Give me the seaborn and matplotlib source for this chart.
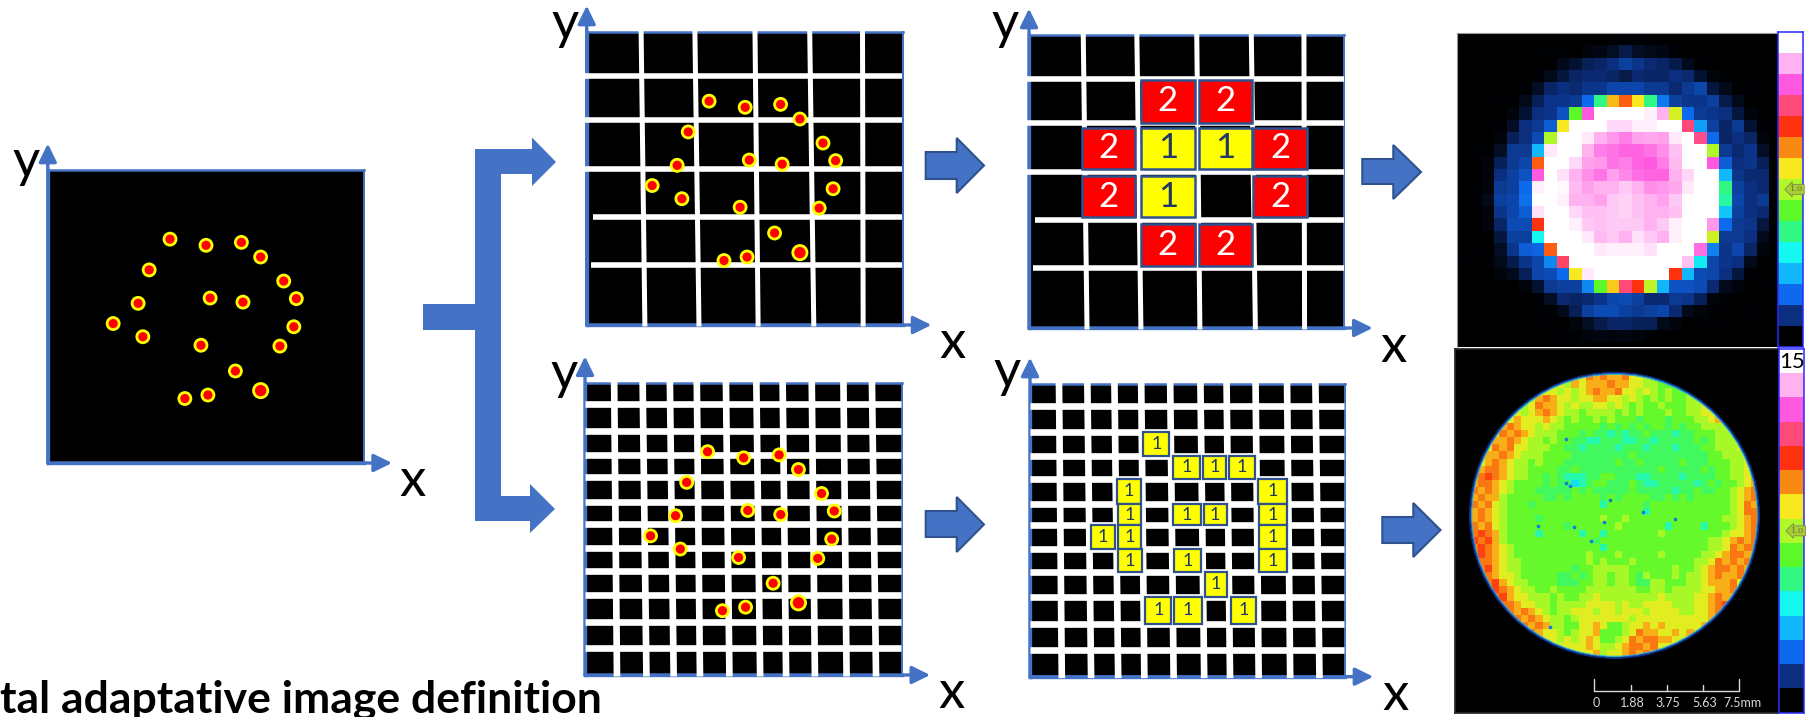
import numpy as np
import pandas as pd
import matplotlib
matplotlib.use('Agg')
import matplotlib.pyplot as plt
import seaborn as sns
from matplotlib.colors import LinearSegmentedColormap
from matplotlib.patches import Circle, Polygon, Rectangle

# ─────────────────────────────────────────
# DATA (positions in % of the panel, y up)
# ─────────────────────────────────────────
event_x = [38.7, 50.1, 61.3, 67.4, 32.1, 74.7, 78.7, 28.6, 51.4, 61.8,
           20.7, 30.1, 77.9, 73.5, 48.5, 59.4, 67.4, 50.7, 43.4]
event_y = [76.4, 74.3, 75.3, 70.3, 65.9, 62.1, 56.1, 54.5, 56.3, 54.9,
           47.6, 43.1, 46.5, 39.9, 40.2, 31.4, 24.7, 23.2, 22.0]
event_weight = [1, 1, 1, 1, 1, 1, 1, 1, 1, 1, 1, 1, 1, 1, 1, 1, 2, 1, 1]

coarse_vx_top = [17.2, 34.2, 53.2, 70.5, 87.2]
coarse_vx_bot = [18.4, 35.5, 54.2, 71.8, 87.4]
coarse_hy = [84.9, 69.9, 53.1, 36.9, 20.5]
coarse_hstart = [-0.7, -0.7, -0.7, 1.9, 1.3]

fine_vx_top = [9.2, 18.2, 26.8, 35.3, 44.5, 54.1, 62.4, 71.6, 81.6, 90.6]
fine_vx_bot = [10.1, 19.4, 28.0, 36.3, 45.6, 55.3, 63.5, 72.6, 82.6, 91.9]
fine_hy = [92.6, 83.5, 75.4, 67.7, 59.1, 51.7, 43.6, 35.7, 27.4, 18.1, 9.1]
fine_hstart = [0] * 11

coarse_bin_x = [(16.9, 33.7), (35.6, 52.5), (53.8, 70.6), (71.2, 88.1)]
coarse_bin_y = [(84.7, 70.0), (68.4, 54.2), (51.9, 37.8), (35.6, 21.3)]
coarse_counts = [[0, 2, 2, 0],
                 [2, 1, 1, 2],
                 [2, 1, 0, 2],
                 [0, 2, 2, 0]]

# row, column of every occupied cell of the fine grid
fine_rows = [2, 3, 3, 3, 4, 4, 5, 5, 5, 5, 6, 6, 6, 7, 7, 7, 8, 9, 9, 9]
fine_cols = [4, 5, 6, 7, 3, 8, 3, 5, 6, 8, 2, 3, 8, 3, 5, 8, 6, 4, 5, 7]

level_colors = ['#000000', '#0b2f80', '#0e6aec', '#10b8fa', '#14f8f0',
                '#30f880', '#5cf82a', '#b0f828', '#f8e81e', '#f88a12',
                '#ff3210', '#ff4a78', '#ff5adf', '#ffb0f0', '#ffffff']
colorbar_levels = list(range(14, -1, -1))

low_res_image = [
    [0, 0, 0, 0, 0, 0, 0, 0, 0, 0, 0, 0, .05, .05, .05, .05, 0, 0, 0, 0, 0, 0, 0, 0, 0, 0],
    [0, 0, 0, 0, 0, 0, .05, .05, .05, 0, .1, .15, .3, .6, .3, .2, .15, .05, 0, 0, 0, 0, 0, 0, 0, 0],
    [0, 0, 0, 0, 0, 0, 0, 0, .2, .4, .7, .8, 1, 1.3, 1.1, .9, .8, .6, .2, .05, 0, 0, 0, 0, 0, 0],
    [0, 0, 0, 0, 0, 0, .05, .2, .5, .8, .9, .9, .8, .6, .9, .8, .8, 1, .9, .4, .1, .05, 0, 0, 0, 0],
    [0, 0, 0, 0, 0, .05, .3, .8, 1, .9, 1.1, 1.1, 1.4, 1.4, 1.4, 1.2, 1.2, .9, 1.2, 1.4, .5, .2, .05, .05, 0, 0],
    [0, 0, 0, .05, 0, .2, .7, 1.1, 1.1, 1.2, 2, 5, 8.5, 9.5, 8, 5, 2.2, 1.3, 1.1, 1.1, 1.3, .6, .2, 0, 0, 0],
    [0, 0, 0, 0, .1, .4, 1, 1.1, 1.6, 6, 12, 14, 14, 14, 14, 13.8, 13, 7.5, 2, 1.2, 1.1, 1, .5, .1, 0, 0],
    [0, 0, 0, .05, .3, 1, 1.2, 1.8, 8, 14, 14, 14, 13.5, 13.5, 13.8, 13.8, 14, 14, 11, 2.7, 1.3, .8, 1.2, .4, .05, 0],
    [0, 0, 0, .1, .7, 1, 1.5, 7, 14, 14, 13.7, 13, 12.7, 12.4, 12.8, 12.9, 12.8, 13.7, 14, 11.2, 2, .8, 1, .8, .1, 0],
    [0, .05, .05, .3, 1.2, 1.2, 3, 13.7, 14, 14, 13, 12.4, 12.3, 12.1, 12.1, 12.3, 12.6, 13.2, 14, 14, 7, 1.2, .9, 1.1, .3, 0],
    [0, 0, .1, .7, 1.2, 1.4, 9.5, 14, 14, 13.5, 12.8, 12.7, 12.3, 12.4, 12.1, 12, 12.4, 13.1, 14, 14, 12, 1.8, 1, 1.1, .7, 0],
    [0, 0, .1, 1, 1.3, 1.6, 12, 14, 13.6, 13, 12.6, 12.3, 12.8, 12.5, 12.2, 12.1, 12.1, 13, 13.5, 14, 14, 3, 1.1, .9, .9, 0],
    [0, .05, .1, 1.2, 1.3, 2, 13.8, 14, 13.9, 13.1, 12.8, 13, 13, 13.3, 13, 12.6, 12.7, 12.9, 13.7, 14, 14, 5, 1.3, 1, .9, 0],
    [0, .05, .2, 1.3, 1.4, 2.1, 14, 14, 13.8, 13, 13, 12.8, 13.3, 13.4, 13.2, 13, 12.8, 13.3, 14, 14, 14, 4.7, 1.4, 1, 1.2, 0],
    [0, 0, .1, 1.1, 1.4, 1.8, 13.6, 14, 14, 13.5, 13.2, 13.2, 13.3, 13.4, 13.2, 13, 13, 13.2, 14, 14, 14, 3.2, 1.3, 1, .9, 0],
    [0, 0, .1, .8, 1.5, 1.5, 10, 14, 14, 13.8, 13.3, 13.2, 13.3, 13.3, 13.3, 13, 13.3, 13.8, 14, 14, 12.7, 2, 1.2, 1.1, .5, 0],
    [0, 0, 0, .5, 1.3, 1.3, 4, 14, 14, 14, 13.7, 13.1, 13.3, 13, 13.6, 13.3, 13, 13.8, 14, 14, 7.4, 1.2, 1.2, 1, .2, 0],
    [0, .05, 0, .3, 1.1, 1.8, 1.9, 9.5, 14, 14, 14, 13.7, 13.8, 13.8, 13.8, 13.6, 14, 14, 14, 12.2, 2.3, 1.1, 1.4, .8, .1, 0],
    [.05, 0, .05, .2, .6, 1.1, 1.4, 2.4, 10.8, 14, 14, 14, 14, 14, 14, 14, 14, 14, 13.2, 3.8, 1.4, 1.1, 1, .2, 0, 0],
    [0, 0, 0, .1, .2, .7, 1.4, 1.5, 2, 8, 13.7, 14, 14, 14, 14, 14, 14, 10, 3, 1.5, 1.4, 1, .5, .05, 0, 0],
    [0, 0, 0, 0, 0, .1, .4, 1.2, 1.3, 1.3, 2.4, 6, 8.3, 11, 10, 7.2, 3, 1.6, 1.6, 1.5, .9, .2, .1, 0, .05, 0],
    [0, 0, 0, 0, 0, 0, .05, .3, .9, .8, .9, 1.1, 1.4, 1.5, 1.3, .9, .9, 1.2, 1.1, .7, .1, .05, 0, 0, 0, 0],
    [0, 0, 0, 0, 0, 0, .05, .05, .2, .7, 1.3, 1.5, 1.5, 1.3, 1.2, 1.3, 1.4, .9, .2, .1, .05, 0, 0, .05, 0, 0],
    [0, 0, 0, 0, 0, 0, 0, .05, 0, .1, .3, .6, .8, .8, .7, .7, .2, .1, 0, .05, 0, .05, 0, 0, 0, 0],
    [0, 0, 0, 0, 0, 0, 0, 0, .05, .05, .1, .15, .1, .15, .1, .05, 0, 0, 0, 0, 0, 0, 0, 0, 0, 0],
    [0, 0, 0, 0, 0, 0, 0, 0, 0, .05, .05, 0, 0, .02, 0, 0, 0, 0, 0, 0, 0, 0, 0, 0, 0, 0],
]

# one character per cell, looked up in high_res_values
high_res_rows = [
    "7777777777777788a9a99a887777666677777777",
    "7777777777778798999a99887766676777777777",
    "77777777778878789a99a8878767667778888777",
    "7777777779a9887889988787676766778899a877",
    "777777778a99878778878767667666778a99a877",
    "7777778789a9877677776767666766778899a987",
    "7777789888987676676766656665666778987777",
    "77779a9887877666665656565665656677776778",
    "7778a9a98777666565545455655545566677789a",
    "77799a9877676655445554455455555656777899",
    "778a9a8877766554555545554555455566777888",
    "7799a98777666655555555655555555556677787",
    "789a987767666555555565565555565556667787",
    "89aa987766665565555555555565555565667788",
    "9aba987766565444556655544555545555667789",
    "9aa9876666565534566555654455555456566789",
    "a9a987666555556565555565555545565566789a",
    "9a9976666655656666565666655656566666789a",
    "a9a87666566666666646666656666666666678a9",
    "9a987666666666666666666646666666666678aa",
    "9a9876666566666666766766666666666667789a",
    "a9a876666666656666667666666466664666789a",
    "aba976666466666466466666667666666667889a",
    "bab9766666666666656666666666666667789a9a",
    "aba987666666666666466666666666666778a9aa",
    "aba987666666666676667666667666667789aa99",
    "aaa9877666666666767666766666666778a9a9a8",
    "9ab9877666666656677777666666766789aa9a98",
    "9aa9887666665565677677657666767789a99a97",
    "89ab98776666555667767765577666778999a897",
    "78aba9877667666677777776677677778899a887",
    "78aab98877767667787777777787777889a99a87",
    "78abaa9887767777888878778888777889aba987",
    "777aba9a98767788878878887888877889ab9787",
    "7778aba9a9877678888888788888888889a98777",
    "77789aaa9a977668898667889898888898987777",
    "777789a9a98876788966678a9988989887777777",
    "7777778899887878986678a9aa99888877777777",
    "7777777788888888987789aa9a88887777777777",
    "7777777777778888897889a9a988877777777777",
]
high_res_values = {'3': 3.6, '4': 4.6, '5': 5.4, '6': 6.1, '7': 6.9, '8': 7.7,
                   '9': 8.6, 'a': 9.2, 'b': 9.8}
dark_spot_x = [19.4, 24.0, 28.4, 18.6, 9.4, 14.4, 16.7, 11.0, 13.3, 13.8, 13.3]
dark_spot_y = [17.8, 19.5, 20.5, 21.0, 21.5, 21.7, 23.6, 35.7, 15.5, 15.9, 9.3]

scale_ticks = [0, 1.88, 3.75, 5.63, 7.5]
scale_labels = ['0', '1.88', '3.75', '5.63', '7.5mm']

# ─────────────────────────────────────────
# HELPERS
# ─────────────────────────────────────────
W, H = 1810, 717
BLUE = '#4472c4'
DARK_BLUE = '#2f528f'

sns.set_theme(style='white')
plt.rcParams['font.family'] = ['Lato', 'DejaVu Sans']

fig = plt.figure(figsize=(W / 100, H / 100), dpi=100)
level_cmap = LinearSegmentedColormap.from_list('levels', level_colors, N=512)


def add_box(x0, y0, x1, y1):
    return fig.add_axes([x0 / W, 1 - y1 / H, (x1 - x0) / W, (y1 - y0) / H])


def draw_panel(box):
    ax = add_box(*box)
    ax.set_facecolor('black')
    ax.set_xlim(0, 100)
    ax.set_ylim(0, 100)
    ax.set_xticks([])
    ax.set_yticks([])
    for name, lw in [('top', 1.8), ('bottom', 2.4), ('left', 2.4), ('right', 1.4)]:
        ax.spines[name].set_visible(True)
        ax.spines[name].set_color(BLUE)
        ax.spines[name].set_linewidth(lw)
    style = dict(arrowstyle='-|>,head_width=0.27,head_length=0.55', color=BLUE,
                 lw=2.4, mutation_scale=20, shrinkA=0, shrinkB=0)
    ax.annotate('', xy=(0, 109), xytext=(0, 0), arrowprops=style, annotation_clip=False, zorder=2)
    ax.annotate('', xy=(109, 0), xytext=(0, 0), arrowprops=style, annotation_clip=False, zorder=2)
    return ax


def draw_grid(ax, vx_top, vx_bot, hy, hstart, vw, hw):
    for top, bot in zip(vx_top, vx_bot):
        ax.plot([top, bot], [100.5, -0.5], color='white', lw=vw, solid_capstyle='butt',
                clip_on=False, zorder=3)
    for y, x0 in zip(hy, hstart):
        ax.plot([x0, 99.8], [y, y], color='white', lw=hw, solid_capstyle='butt',
                clip_on=False, zorder=3)


def draw_events(ax):
    df = pd.DataFrame({'x': event_x, 'y': event_y, 'weight': event_weight})
    sns.scatterplot(data=df, x='x', y='y', size='weight', sizes=(75, 105), color='#ff0000',
                    edgecolor='#ffff00', linewidth=2, legend=False, ax=ax, zorder=5)
    ax.set_xlabel('')
    ax.set_ylabel('')


def draw_cell(ax, x0, x1, y0, y1, count, fontsize, lw):
    face = {1: '#ffff00', 2: '#ff0000'}[count]
    text_color = {1: '#1f3864', 2: 'white'}[count]
    ax.add_patch(Rectangle((x0, y1), x1 - x0, y0 - y1, facecolor=face, edgecolor=DARK_BLUE,
                           lw=lw, zorder=4))
    ax.text((x0 + x1) / 2, (y0 + y1) / 2, str(count), color=text_color, fontsize=fontsize,
            ha='center', va='center', zorder=6)


# ─────────────────────────────────────────
# EVENT AND GRID PANELS
# ─────────────────────────────────────────
ax_a = draw_panel((47.8, 170, 363.6, 463))
draw_events(ax_a)

ax_b = draw_panel((586.7, 32, 903, 325))
draw_grid(ax_b, coarse_vx_top, coarse_vx_bot, coarse_hy, coarse_hstart, 3.6, 4.0)
draw_events(ax_b)

ax_c = draw_panel((1029, 35, 1344.3, 328))
draw_grid(ax_c, coarse_vx_top, coarse_vx_bot, coarse_hy, coarse_hstart, 3.6, 4.0)
for r, (y0, y1) in enumerate(coarse_bin_y):
    for c, (x0, x1) in enumerate(coarse_bin_x):
        if coarse_counts[r][c]:
            draw_cell(ax_c, x0, x1, y0, y1, coarse_counts[r][c], 25, 1.8)

ax_d = draw_panel((585, 382.7, 901.7, 675))
draw_grid(ax_d, fine_vx_top, fine_vx_bot, fine_hy, fine_hstart, 4.8, 4.8)
draw_events(ax_d)

ax_e = draw_panel((1030, 384, 1345, 676.7))
draw_grid(ax_e, fine_vx_top, fine_vx_bot, fine_hy, fine_hstart, 4.8, 4.8)
for r, c in zip(fine_rows, fine_cols):
    t = 1 - (fine_hy[r - 1] + fine_hy[r]) / 200
    left = fine_vx_top[c - 1] + t * (fine_vx_bot[c - 1] - fine_vx_top[c - 1])
    right = fine_vx_top[c] + t * (fine_vx_bot[c] - fine_vx_top[c])
    draw_cell(ax_e, left + 0.5, right - 0.5, fine_hy[r - 1], fine_hy[r], 1, 13, 1.6)

# ─────────────────────────────────────────
# RESULT IMAGES
# ─────────────────────────────────────────
ax_low = add_box(1456.7, 33, 1778.3, 347)
sns.heatmap(np.array(low_res_image), cmap=level_cmap, vmin=0, vmax=14, cbar=False,
            xticklabels=False, yticklabels=False, ax=ax_low)
ax_low.set_xlim(0, 25.73)
ax_low.set_ylim(25.4, 0)
for name in ['left', 'top']:
    ax_low.spines[name].set_visible(True)
    ax_low.spines[name].set_color('#999999')
    ax_low.spines[name].set_linewidth(0.8)

ax_high_bg = add_box(1455, 349, 1779.3, 712.7)
ax_high_bg.set_facecolor('black')
ax_high_bg.set_xticks([])
ax_high_bg.set_yticks([])

ax_high = add_box(1470.7, 373.3, 1758.3, 657.3)
high_res_image = np.array([[high_res_values[ch] for ch in row] for row in high_res_rows])
sns.heatmap(high_res_image, cmap=level_cmap, vmin=0, vmax=14, cbar=False,
            xticklabels=False, yticklabels=False, ax=ax_high)
ax_high.collections[0].set_clip_path(Circle((20, 20), 20, transform=ax_high.transData))
ax_high.patch.set_alpha(0)
sns.scatterplot(x=dark_spot_x, y=dark_spot_y, color='#0a80d8', s=7, linewidth=0, ax=ax_high, zorder=3)
for radius, color, lw in [(19.85, '#10b8fa', 0.6), (20, '#0e5ad0', 0.8), (20.15, '#0b2f80', 0.8)]:
    ax_high.add_patch(Circle((20, 20), radius, fill=False, edgecolor=color, lw=lw, clip_on=False, zorder=4))
ax_high.set_xlim(0, 40)
ax_high.set_ylim(40, 0)

for box, label in [((1778.3, 32, 1802.7, 346.7), None), ((1779.3, 349, 1804, 712.7), '15')]:
    ax_bar = add_box(*box)
    sns.heatmap(np.array(colorbar_levels).reshape(-1, 1), cmap=level_cmap, vmin=0, vmax=14,
                cbar=False, xticklabels=False, yticklabels=False, ax=ax_bar)
    for spine in ax_bar.spines.values():
        spine.set_visible(True)
        spine.set_color('#2a2aff')
        spine.set_linewidth(1.1)
    ax_bar.text(1.02, 7.5, '1.0', fontsize=6, family='DejaVu Serif', color='#667040', ha='right', va='center',
                bbox=dict(boxstyle='larrow,pad=0.12', fc='#a8d030', ec='#7a8a50', lw=0.6))
    if label:
        ax_bar.text(0.5, 0.52, label, fontsize=16, color='black', ha='center', va='center')

# ─────────────────────────────────────────
# OVERLAY: ARROWS, AXIS LETTERS, SCALE BAR, CAPTION
# ─────────────────────────────────────────
ov = fig.add_axes([0, 0, 1, 1], zorder=10)
ov.set_xlim(0, W)
ov.set_ylim(H, 0)
ov.axis('off')


def block_arrow(x0, x1, tip, top, bottom, head_top, head_bottom):
    mid = (head_top + head_bottom) / 2
    ov.add_patch(Polygon([(x0, top), (x1, top), (x1, head_top), (tip, mid), (x1, head_bottom),
                          (x1, bottom), (x0, bottom)], closed=True, facecolor=BLUE,
                         edgecolor=DARK_BLUE, lw=1.5))


block_arrow(925.7, 956.7, 984, 152, 179, 138, 193)
block_arrow(925.7, 956.7, 984, 511, 537, 497, 552)
block_arrow(1362.3, 1393.3, 1421, 159, 184, 145, 199)
block_arrow(1382.3, 1413.3, 1440.5, 517, 543, 503, 557)

# bracket that splits into the two grid definitions
ov.add_patch(Polygon([(423, 304), (475, 304), (475, 149), (532, 149), (532, 137.5), (556, 162),
                      (532, 186), (532, 174), (501, 174), (501, 496), (530, 496), (530, 484),
                      (555, 509), (530, 533), (530, 521), (475, 521), (475, 330), (423, 330)],
                     closed=True, facecolor=BLUE, edgecolor='none'))

letters = [('y', 26, 163), ('x', 413, 482), ('y', 565, 25), ('x', 953, 343), ('y', 1005, 25),
           ('x', 1394, 347), ('y', 564, 375), ('x', 952, 693), ('y', 1007, 373), ('x', 1396, 696)]
for letter, x, y in letters:
    ov.text(x, y, letter, fontsize=38, color='black', ha='center', va='center')

bar_x0, bar_y, px_per_mm = 1594.3, 690.7, 19.33
bar_color = '#d8d8d8'
ov.plot([bar_x0, bar_x0 + 7.5 * px_per_mm], [bar_y, bar_y], color=bar_color, lw=1)
for i, (tick, label) in enumerate(zip(scale_ticks, scale_labels)):
    x = bar_x0 + tick * px_per_mm
    top = bar_y - 11.4 if i in (0, 4) else bar_y - 5.7
    ov.plot([x, x], [top, bar_y], color=bar_color, lw=1)
    ov.text(x + (3 if i == 4 else 1.5), 703, label, color=bar_color, fontsize=9, ha='center', va='center')

ov.text(0, 713, 'tal adaptative image definition', fontsize=32, fontweight='bold', color='black',
        ha='left', va='baseline')

plt.savefig('out.png', dpi=100)
plt.close()
